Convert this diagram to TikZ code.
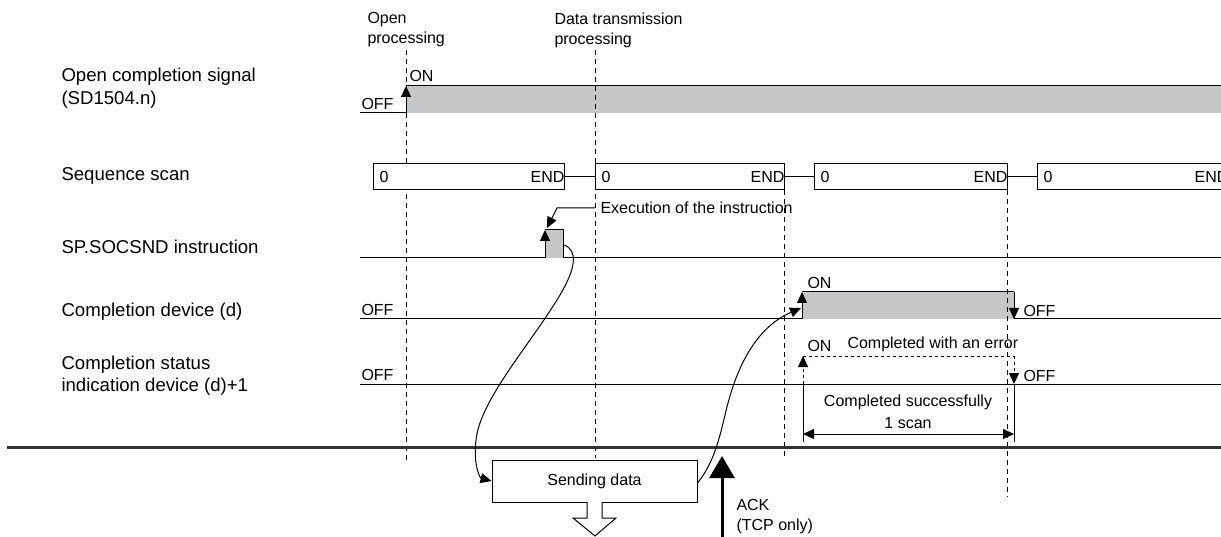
\documentclass[tikz,border=0pt]{standalone}
\usepackage{fontspec}
\setmainfont{Liberation Sans}
\usetikzlibrary{arrows.meta, positioning}
\definecolor{sigfill}{RGB}{198, 199, 200}
\definecolor{sepline}{RGB}{50, 50, 50}

\begin{document}
\begin{tikzpicture}[x=1pt, y=-1pt, line width=1pt,
    >={Triangle[length=11pt, width=10pt]},
    lbl/.style={anchor=west, align=left, inner sep=0pt,
                font=\fontsize{18.6}{23}\selectfont},
    small/.style={inner sep=0pt, font=\fontsize{16}{20}\selectfont},
    scanbox/.style={draw, fill=white, minimum height=26pt,
                    inner xsep=0pt, inner ysep=0pt,
                    font=\fontsize{16}{20}\selectfont},
    guide/.style={dash pattern=on 5pt off 4pt, line width=0.9pt}]
  \useasboundingbox (0, 0) rectangle (1221, 537);
  \clip (0, 0) rectangle (1221, 537);

  % signal names
  \node[lbl] (sigopen) at (61, 88) {Open completion signal\\(SD1504.n)};
  \node[lbl] (sigscan) at (61, 176) {Sequence scan};
  \node[lbl] (siginst) at (61, 247) {SP.SOCSND instruction};
  \node[lbl] (sigdone) at (61, 312) {Completion device (d)};
  \node[lbl, font=\fontsize{18.6}{22}\selectfont] (sigstat) at (61, 376)
        {Completion status\\indication device (d)+1};

  % headers
  \node[small, anchor=west, align=left] (hopen) at (367, 30) {Open\\processing};
  \node[small, anchor=west, align=left] (hdata) at (554, 30) {Data transmission\\processing};

  % gray levels
  \fill[sigfill] (406, 86) rectangle (1221, 113);
  \fill[sigfill] (545, 230) rectangle (563, 258);
  \fill[sigfill] (802, 292) rectangle (1014, 319);

  % guides
  \draw[guide] (406, 50) -- (406, 460);
  \draw[guide] (595, 50) -- (595, 458);
  \draw[guide] (784, 190) -- (784, 458);
  \draw[guide] (1007, 190) -- (1007, 497);

  % open completion signal
  \draw (360, 113) -- (406, 113);
  \draw[->] (406, 113) -- (406, 86);
  \draw (406, 86) -- (1221, 86);
  \node[small, anchor=base west] (offopen) at (361, 110) {OFF};
  \node[small, anchor=west] (onopen) at (409, 76) {ON};

  % sequence scan
  \node[scanbox, anchor=west, text width=191pt] (scan1) at (373, 177)
        {\hspace*{6pt}0\hfill END\hspace*{1pt}};
  \node[scanbox, anchor=west, text width=189pt] (scan2) at (595, 177)
        {\hspace*{6pt}0\hfill END\hspace*{1pt}};
  \node[scanbox, anchor=west, text width=193pt] (scan3) at (814, 177)
        {\hspace*{6pt}0\hfill END\hspace*{1pt}};
  \node[scanbox, anchor=west, text width=191pt] (scan4) at (1037, 177)
        {\hspace*{6pt}0\hfill END\hspace*{1pt}};
  \draw (scan1.east) -- (scan2.west);
  \draw (scan2.east) -- (scan3.west);
  \draw (scan3.east) -- (scan4.west);

  % SP.SOCSND instruction
  \draw (360, 258) -- (545, 258);
  \draw[->] (545, 258) -- (545, 230);
  \draw (545, 230) -- (563, 230) -- (563, 258) -- (1221, 258);
  \node[small, anchor=west] (exec) at (600, 208) {Execution of the instruction};
  \draw[->] ([xshift=-5pt]exec.west) -- (557, 208) -- (547, 228);

  % completion device
  \draw (360, 319) -- (802, 319);
  \draw[->] (802, 319) -- (802, 292);
  \draw (802, 292) -- (1014, 292);
  \draw[->] (1014, 292) -- (1014, 319);
  \draw (1014, 319) -- (1221, 319);
  \node[small, anchor=base west] (offdone) at (361, 316) {OFF};
  \node[small, anchor=west] (ondone) at (807, 283) {ON};
  \node[small, anchor=west] (offdone2) at (1023, 311) {OFF};

  % completion status
  \draw (360, 384) -- (1221, 384);
  \draw[->, dashed] (803, 384) -- (803, 356);
  \draw[dashed] (803, 356) -- (1014, 356);
  \draw[->, dashed] (1014, 356) -- (1014, 384);
  \node[small, anchor=base west] (offstat) at (361, 381) {OFF};
  \node[small, anchor=west] (onstat) at (807, 346) {ON};
  \node[small, anchor=west] (err) at (847, 344) {Completed with an error};
  \node[small, anchor=west] (offstat2) at (1023, 376) {OFF};
  \draw (803, 384) -- (803, 442);
  \draw (1014, 384) -- (1014, 442);
  \draw[<->] (803, 434) -- (1014, 434);
  \node[small] (okay) at (908, 402) {Completed successfully};
  \node[small] (onescan) at (908, 423) {1 scan};

  % separator
  \draw[line width=3pt, sepline] (7, 447) -- (1221, 447);

  % sending data
  \node[draw, fill=white, minimum width=205pt, minimum height=42pt,
        font=\fontsize{16}{20}\selectfont] (send) at (594.5, 481) {Sending data};
  \draw[fill=white] (587, 502) -- (587, 518) -- (573, 518) -- (595, 536)
        -- (616, 518) -- (602, 518) -- (602, 502);
  \draw[line width=3pt, -{Triangle[length=22pt, width=25pt]}] (722, 540) -- (722, 456);
  \node[small, anchor=west, align=left] (ack) at (736, 517) {ACK\\(TCP only)};

  % links
  \coordinate (pulse) at (564, 245);
  \coordinate (rise) at (801, 308);
  \draw[->] (pulse) .. controls (578, 250) and (576, 268) .. (560, 295)
        .. controls (530, 345) and (480, 400) .. (476, 440)
        .. controls (473, 465) and (480, 478) .. (send.west);
  \draw[->] ([yshift=-2pt]send.east) .. controls (712, 465) and (718, 445) .. (725, 415)
        .. controls (733, 380) and (750, 330) .. (rise);
\end{tikzpicture}
\end{document}
